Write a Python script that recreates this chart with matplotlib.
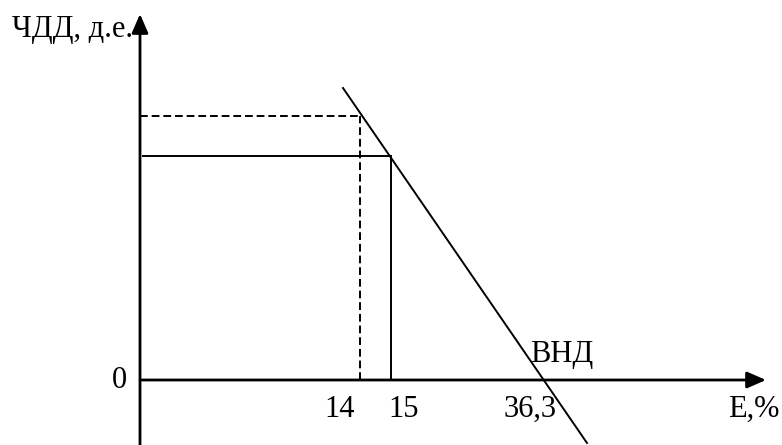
import matplotlib.pyplot as plt

# schematic chart, not to scale: positions along E axis are sketch units
rate_labels = ["14", "15", "36,3"]
rate_pos = [22.0, 25.1, 40.3]          # where each rate sits on the E axis
npv_at_rate = [26.4, 22.4]             # NPV levels for 14 % and 15 %

# NPV line endpoints (sketch units)
npv_line_x = [20.3, 44.7]
npv_line_y = [29.2, -6.3]

plt.rcParams["font.family"] = ["Liberation Serif", "DejaVu Serif"]

fig = plt.figure(figsize=(7.82, 4.45), dpi=100)
ax = fig.add_axes([0, 0, 1, 1])
ax.set_xlim(-14, 64.2)
ax.set_ylim(-6.5, 38)
ax.axis("off")

# axes with arrow heads
arrow = dict(arrowstyle="-|>,head_length=1.15,head_width=0.5",
             mutation_scale=10, color="black", lw=2.0,
             shrinkA=0, shrinkB=0)
ax.annotate("", xy=(0, 36.6), xytext=(0, -6.5), arrowprops=arrow)
ax.annotate("", xy=(62.6, 0), xytext=(0, 0), arrowprops=arrow)

# dashed guides for 14 %
ax.plot([0, rate_pos[0]], [npv_at_rate[0], npv_at_rate[0]],
        color="black", lw=1.4, ls=(0, (4, 2)))
ax.plot([rate_pos[0], rate_pos[0]], [0, npv_at_rate[0]],
        color="black", lw=1.4, ls=(0, (4, 2)))

# solid guides for 15 %
ax.plot([0.3, rate_pos[1]], [npv_at_rate[1], npv_at_rate[1]],
        color="black", lw=1.4)
ax.plot([rate_pos[1], rate_pos[1]], [0, npv_at_rate[1]],
        color="black", lw=1.4)

# NPV line
ax.plot(npv_line_x, npv_line_y, color="black", lw=1.4)

fs = 22
ax.annotate(rate_labels[0], xy=(rate_pos[0], -3.7), xytext=(-4, 0),
            textcoords="offset points", ha="right", va="baseline", fontsize=fs)
ax.annotate(rate_labels[1], xy=(rate_pos[1], -3.7), xytext=(-2, 0),
            textcoords="offset points", ha="left", va="baseline", fontsize=fs)
ax.annotate(rate_labels[2], xy=(rate_pos[2], -3.7), xytext=(-9, 0),
            textcoords="offset points", ha="center", va="baseline", fontsize=fs)

ax.text(39.0, 1.8, "ВНД", ha="left", va="baseline", fontsize=fs)
ax.text(58.8, -3.7, "Е,%", ha="left", va="baseline", fontsize=fs)
ax.text(-1.3, -0.1, "0", ha="right", va="center", fontsize=fs)
ax.text(-12.8, 34.3, "ЧДД, д.е.", ha="left", va="baseline", fontsize=fs)

fig.savefig("out.png", dpi=100)
plt.close(fig)
